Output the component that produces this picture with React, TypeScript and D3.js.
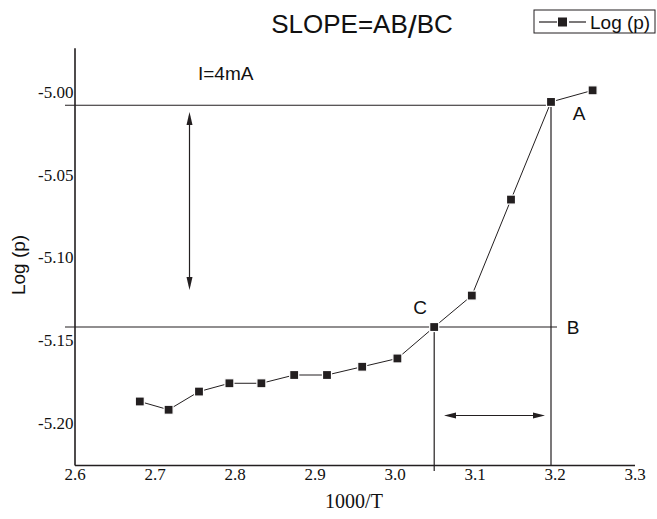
import React from "react";
import * as d3 from "d3";

const xValues = [2.681, 2.717, 2.755, 2.793, 2.833, 2.874, 2.915, 2.959, 3.003, 3.049, 3.096, 3.145, 3.195, 3.247];
const logP = [-5.187, -5.192, -5.181, -5.176, -5.176, -5.171, -5.171, -5.166, -5.161, -5.142, -5.123, -5.065, -5.006, -4.999];
const xTicks = [2.6, 2.7, 2.8, 2.9, 3.0, 3.1, 3.2, 3.3];
const yTicks = [-5.0, -5.05, -5.1, -5.15, -5.2];
const refA = -5.008;
const refB = -5.142;
const xC = 3.049;
const xA = 3.195;

const W = 657;
const H = 519;
const SANS = "'Liberation Sans', Arial, sans-serif";
const SERIF = "'Liberation Serif', 'Times New Roman', serif";
const INK = "#231f20";

export default function App() {
  const x = d3.scaleLinear().domain([2.6, 3.3]).range([75, 635]);
  const y = d3.scaleLinear().domain([-5.2, -5.0]).range([423, 92]);
  const yBottom = 465.5;
  const yTop = y(-4.9735);
  const pts = xValues.map((v, i) => [x(v), y(logP[i])] as [number, number]);
  const line = d3.line()(pts) || "";
  const sq = 9;

  const arrowH = (x1: number, x2: number, yy: number) => {
    const L = 12, hw = 3;
    return (
      <g>
        <line x1={x1 + 4} x2={x2 - 4} y1={yy} y2={yy} stroke={INK} strokeWidth={1.2} />
        <path d={`M${x1},${yy}L${x1 + L},${yy - hw}L${x1 + L},${yy + hw}Z`} fill={INK} />
        <path d={`M${x2},${yy}L${x2 - L},${yy - hw}L${x2 - L},${yy + hw}Z`} fill={INK} />
      </g>
    );
  };
  const arrowV = (xx: number, y1: number, y2: number) => {
    const L = 13, hw = 3;
    return (
      <g>
        <line x1={xx} x2={xx} y1={y1 + 4} y2={y2 - 4} stroke={INK} strokeWidth={1.2} />
        <path d={`M${xx},${y1}L${xx - hw},${y1 + L}L${xx + hw},${y1 + L}Z`} fill={INK} />
        <path d={`M${xx},${y2}L${xx - hw},${y2 - L}L${xx + hw},${y2 - L}Z`} fill={INK} />
      </g>
    );
  };

  return (
    <svg width={W} height={H} style={{ position: "absolute", left: 0, top: 0, background: "#fff" }}>
      <rect x={0} y={0} width={W} height={H} fill="#fff" />
      {/* title */}
      <text x={362} y={33} textAnchor="middle" fontFamily={SANS} fontSize={26} fill="#111">
        SLOPE=AB<tspan fontSize={32} dy={5}>/</tspan><tspan dy={-5}>BC</tspan>
      </text>
      {/* legend */}
      <rect x={534} y={10} width={121} height={23} fill="#fff" stroke={INK} strokeWidth={1} />
      <line x1={539} x2={557} y1={22} y2={22} stroke={INK} strokeWidth={1.2} />
      <rect x={558} y={17.5} width={sq} height={sq} fill={INK} />
      <line x1={569} x2={586} y1={22} y2={22} stroke={INK} strokeWidth={1.2} />
      <text x={590} y={28.5} fontFamily={SANS} fontSize={19} fill="#111">Log (p)</text>

      {/* axes */}
      <line x1={x(2.6)} x2={x(2.6)} y1={yTop} y2={yBottom} stroke={INK} strokeWidth={1.6} />
      <line x1={x(2.6)} x2={x(3.3)} y1={yBottom} y2={yBottom} stroke={INK} strokeWidth={1.6} />
      {yTicks.map((t) => (
        <text key={t} x={73.5} y={y(t)} dy="0.35em" textAnchor="end" fontFamily={SERIF} fontSize={17} fill="#111">
          {t.toFixed(2)}
        </text>
      ))}
      {xTicks.map((t) => (
        <text key={t} x={x(t)} y={479.5} textAnchor="middle" fontFamily={SERIF} fontSize={17} fill="#111">
          {t.toFixed(1)}
        </text>
      ))}
      <text x={354} y={508} textAnchor="middle" fontFamily={SERIF} fontSize={20} fill="#111">1000/T</text>
      <text transform={`translate(25,265) rotate(-90)`} textAnchor="middle" fontFamily={SANS} fontSize={19} fill="#111">Log (p)</text>

      {/* construction lines */}
      <line x1={65} x2={x(xA)} y1={y(refA)} y2={y(refA)} stroke={INK} strokeWidth={1.2} />
      <line x1={65} x2={557} y1={y(refB)} y2={y(refB)} stroke={INK} strokeWidth={1.2} />
      <line x1={x(xC)} x2={x(xC)} y1={y(refB)} y2={471} stroke={INK} strokeWidth={1.2} />
      <line x1={x(xA)} x2={x(xA)} y1={y(refA)} y2={yBottom} stroke={INK} strokeWidth={1.2} />
      {arrowV(189.5, 112, 290)}
      {arrowH(444, 545, 415.5)}

      {/* data */}
      <path d={line} fill="none" stroke={INK} strokeWidth={1} />
      {pts.map(([px, py], i) => (
        <rect key={i} x={px - sq / 2} y={py - sq / 2} width={sq} height={sq} fill={INK} stroke="#fff" strokeWidth={1.2} />
      ))}

      {/* annotations */}
      <text x={198} y={80} fontFamily={SANS} fontSize={19} fill="#111">I=4mA</text>
      <text x={579} y={120} textAnchor="middle" fontFamily={SANS} fontSize={19} fill="#111">A</text>
      <text x={573} y={334} textAnchor="middle" fontFamily={SANS} fontSize={19} fill="#111">B</text>
      <text x={420} y={314} textAnchor="middle" fontFamily={SANS} fontSize={19} fill="#111">C</text>
    </svg>
  );
}
